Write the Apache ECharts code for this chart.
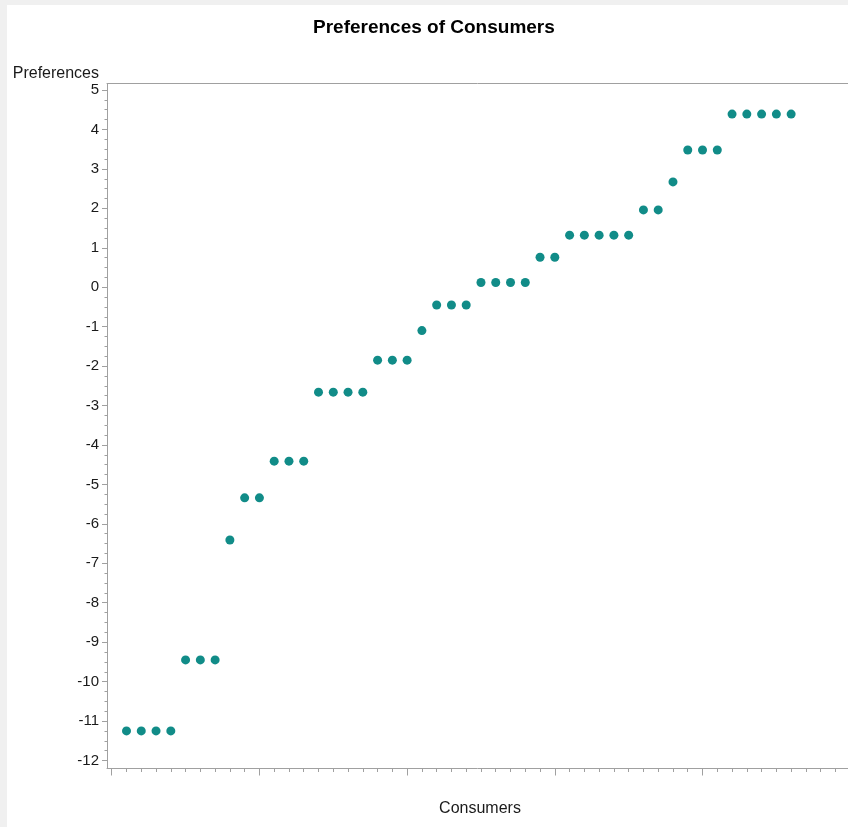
<!DOCTYPE html>
<html>
<head>
<meta charset="utf-8">
<script src="https://cdn.jsdelivr.net/npm/echarts@6/dist/echarts.min.js"></script>
<style>
  html, body { margin: 0; padding: 0; background: #f0f0f0; width: 848px; height: 827px; overflow: hidden; }
  #chart { position: absolute; left: 7px; top: 5px; width: 841px; height: 822px; background: #ffffff; }
</style>
</head>
<body>
<div id="chart"></div>
<script>
// ---- data ----
const consumers = [1, 2, 3, 4, 5, 6, 7, 8, 9, 10, 11, 12, 13, 14, 15, 16, 17, 18, 19, 20, 21, 22, 23,
  24, 25, 26, 27, 28, 29, 30, 31, 32, 33, 34, 35, 36, 37, 38, 39, 40, 41, 42, 43, 44, 45, 46];
const preferences = [
  -11.25, -11.25, -11.25, -11.25,
  -9.45, -9.45, -9.45,
  -6.41,
  -5.34, -5.34,
  -4.41, -4.41, -4.41,
  -2.66, -2.66, -2.66, -2.66,
  -1.85, -1.85, -1.85,
  -1.10,
  -0.45, -0.45, -0.45,
  0.12, 0.12, 0.12, 0.12,
  0.76, 0.76,
  1.32, 1.32, 1.32, 1.32, 1.32,
  1.96, 1.96,
  2.67,
  3.48, 3.48, 3.48,
  4.39, 4.39, 4.39, 4.39, 4.39
];
const yTickLabels = [-12, -11, -10, -9, -8, -7, -6, -5, -4, -3, -2, -1, 0, 1, 2, 3, 4, 5];
const xMajorTicks = [0, 10, 20, 30, 40];

// minor tick positions (axis decoration only)
const yMinorTicks = [];
for (let v = -12; v <= 5.001; v += 0.25) yMinorTicks.push(Math.round(v * 100) / 100);
const xMinorTicks = [];
for (let v = 0; v <= 49; v += 1) xMinorTicks.push(v);

const points = consumers.map((c, i) => [c, preferences[i]]);

const axisColor = '#a0a0a0';
const textColor = '#1a1a1a';
const fontFam = '"Liberation Sans", Arial, sans-serif';
const X_MIN = -0.32, X_MAX = 49.85, Y_MIN = -12.19, Y_MAX = 5.165;

const chart = echarts.init(document.getElementById('chart'), null, { renderer: 'canvas' });
chart.setOption({
  animation: false,
  backgroundColor: '#ffffff',
  textStyle: { fontFamily: fontFam },
  title: {
    text: 'Preferences of Consumers',
    left: 301,
    top: 8,
    textStyle: { fontFamily: fontFam, fontSize: 19, fontWeight: 'bold', color: '#000' }
  },
  grid: {
    left: 100, right: 0, top: 78.5, bottom: 59,
    show: false,
    containLabel: false
  },
  xAxis: [
    {
      type: 'value', min: X_MIN, max: X_MAX, position: 'bottom',
      axisLine: { show: true, onZero: false, lineStyle: { color: axisColor, width: 1 } },
      axisTick: { show: true, customValues: xMajorTicks, length: 7.5, lineStyle: { color: axisColor } },
      axisLabel: { show: false },
      splitLine: { show: false },
      name: 'Consumers', nameLocation: 'middle', nameGap: 33,
      nameTextStyle: { fontFamily: fontFam, fontSize: 16, color: textColor, padding: [0, 0, 0, 5] }
    },
    {
      type: 'value', min: X_MIN, max: X_MAX, position: 'bottom',
      axisLine: { show: false, onZero: false },
      axisTick: { show: true, customValues: xMinorTicks, length: 4, lineStyle: { color: axisColor } },
      axisLabel: { show: false },
      splitLine: { show: false }
    },
    {
      type: 'value', min: X_MIN, max: X_MAX, position: 'top',
      axisLine: { show: true, onZero: false, lineStyle: { color: axisColor, width: 1 } },
      axisTick: { show: false },
      axisLabel: { show: false },
      splitLine: { show: false }
    }
  ],
  yAxis: [
    {
      type: 'value', min: Y_MIN, max: Y_MAX, position: 'left',
      axisLine: { show: true, onZero: false, lineStyle: { color: axisColor, width: 1 } },
      axisTick: { show: true, customValues: yTickLabels, length: 5, lineStyle: { color: axisColor } },
      axisLabel: { show: true, customValues: yTickLabels, margin: 8, fontSize: 15, color: textColor, fontFamily: fontFam },
      splitLine: { show: false },
      name: 'Preferences', nameLocation: 'end', nameGap: 2,
      nameTextStyle: { fontFamily: fontFam, fontSize: 16, color: textColor, align: 'right', verticalAlign: 'bottom', padding: [0, 8, 0, 0] }
    },
    {
      type: 'value', min: Y_MIN, max: Y_MAX, position: 'left',
      axisLine: { show: false, onZero: false },
      axisTick: { show: true, customValues: yMinorTicks, length: 2.5, lineStyle: { color: axisColor } },
      axisLabel: { show: false },
      splitLine: { show: false }
    }
  ],
  series: [{
    type: 'scatter',
    xAxisIndex: 0, yAxisIndex: 0,
    data: points,
    symbol: 'circle',
    symbolSize: 9,
    itemStyle: { color: '#118c88', opacity: 1 }
  }]
});
</script>
</body>
</html>
